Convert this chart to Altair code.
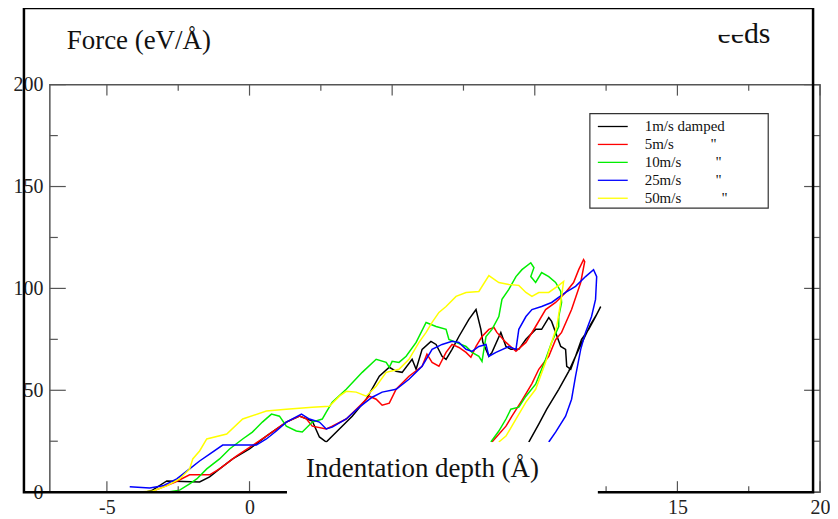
import altair as alt
import pandas as pd

W, H = 773, 409

series_names = ["1m/s damped", "5m/s", "10m/s", "25m/s", "50m/s"]
legend_ditto = ["", "\"", "\"", "\"", "\""]
series_colors = ["#000000", "#ff0000", "#00ee00", "#0000ff", "#ffff00"]

black_x = [-3.60, -3.40, -2.90, -1.75, -1.40, -1.05, -0.59, 0.00, 0.59, 1.29, 1.75, 2.20, 2.45, 2.69, 3.15, 3.60, 4.09, 4.55, 4.90, 5.14, 5.35, 5.70, 5.84, 6.05, 6.36, 6.54, 6.75, 6.89, 7.10, 7.34, 7.69, 7.94, 8.11, 8.18, 8.39, 8.50, 8.81, 8.99, 9.16, 9.44, 9.69, 10.03, 10.24, 10.49, 10.59, 10.73, 10.91, 11.08, 11.12, 11.26, 11.43, 11.64, 11.89, 12.13, 12.31, 12.17, 11.96, 11.54, 11.19, 10.84, 10.42, 10.14, 9.79]
black_y = [0.2, 1.0, 5.5, 5.0, 7.5, 11.4, 16.3, 21.2, 27.5, 34.4, 37.3, 34.9, 27.1, 24.6, 31.0, 37.3, 45.6, 56.9, 61.3, 59.3, 58.8, 65.2, 60.3, 70.1, 74.0, 72.5, 66.7, 65.2, 70.1, 76.4, 84.8, 89.6, 79.9, 73.5, 66.7, 68.6, 78.4, 71.5, 70.1, 70.1, 75.0, 79.9, 79.9, 85.7, 83.8, 78.4, 71.5, 70.1, 61.8, 60.3, 66.7, 75.0, 79.9, 86.2, 91.1, 87.2, 82.3, 70.1, 59.3, 50.5, 40.7, 33.4, 24.6]

red_x = [-3.30, -2.60, -2.10, -1.40, -1.05, -0.45, 0.59, 1.29, 1.75, 1.99, 2.20, 2.69, 2.90, 3.39, 3.85, 4.20, 4.44, 4.65, 4.90, 5.14, 5.59, 6.05, 6.22, 6.40, 6.64, 6.89, 7.10, 7.34, 7.59, 7.76, 7.94, 8.15, 8.39, 8.57, 8.67, 8.99, 9.34, 9.69, 10.03, 10.38, 10.73, 11.08, 11.36, 11.54, 11.71, 11.75, 11.61, 11.29, 10.94, 10.73, 10.49, 10.14, 9.90, 9.55, 9.20, 8.99, 8.50]
red_y = [1.0, 5.0, 8.5, 8.5, 11.4, 17.8, 27.5, 34.4, 37.3, 36.0, 32.4, 31.0, 32.4, 35.9, 42.2, 47.1, 45.6, 42.7, 43.7, 50.5, 56.9, 61.8, 67.7, 63.7, 61.8, 68.6, 72.5, 71.0, 68.6, 66.2, 71.5, 76.4, 79.9, 80.8, 78.4, 73.5, 69.1, 73.5, 81.3, 89.6, 93.1, 98.0, 102.9, 109.2, 114.1, 113.1, 102.9, 89.6, 78.4, 74.8, 66.7, 60.3, 53.3, 45.0, 37.3, 32.4, 24.6]

green_x = [-2.80, -2.45, -2.10, -1.85, -1.50, -1.05, -0.70, -0.24, 0.10, 0.45, 0.77, 1.05, 1.29, 1.64, 1.85, 2.20, 2.55, 2.69, 2.90, 3.39, 3.95, 4.44, 4.79, 4.90, 5.00, 5.24, 5.49, 5.84, 6.19, 6.54, 6.89, 6.99, 7.24, 7.59, 7.80, 8.04, 8.15, 8.29, 8.50, 8.74, 8.85, 9.09, 9.34, 9.55, 9.86, 9.97, 9.86, 10.03, 10.24, 10.49, 10.73, 10.91, 10.94, 10.84, 10.84, 10.59, 10.38, 10.03, 9.69, 9.44, 9.16, 8.99, 8.74, 8.46]
green_y = [0.2, 1.0, 4.1, 6.5, 11.4, 16.3, 21.2, 26.1, 29.5, 34.4, 38.3, 37.3, 32.4, 30.0, 29.5, 34.4, 35.9, 39.3, 44.2, 50.5, 58.8, 65.2, 63.7, 61.3, 64.2, 63.7, 66.7, 73.5, 83.3, 81.3, 79.9, 75.0, 73.5, 71.5, 68.6, 66.7, 64.2, 76.4, 79.9, 86.2, 94.6, 99.5, 105.8, 109.2, 112.6, 110.2, 105.8, 102.9, 107.8, 105.8, 102.9, 98.5, 93.1, 86.2, 81.3, 73.5, 65.2, 53.0, 47.1, 41.7, 40.7, 35.9, 30.0, 24.6]

blue_x = [-4.20, -3.50, -3.04, -2.55, -2.10, -1.75, -1.40, -0.94, 0.24, 0.59, 0.94, 1.29, 1.82, 2.10, 2.45, 2.69, 2.90, 3.39, 3.85, 4.30, 4.65, 5.14, 5.59, 6.05, 6.40, 6.75, 7.10, 7.34, 7.59, 7.80, 8.04, 8.29, 8.39, 8.64, 9.09, 9.34, 9.44, 9.69, 9.90, 10.24, 10.59, 11.08, 11.43, 11.78, 12.06, 12.17, 12.13, 11.99, 11.78, 11.61, 11.43, 11.29, 11.08, 10.73, 10.49]
blue_y = [2.6, 2.1, 3.1, 6.5, 11.4, 15.3, 18.7, 23.1, 23.1, 26.1, 30.0, 34.4, 38.3, 35.9, 34.4, 31.0, 31.9, 35.9, 41.7, 46.6, 49.1, 50.5, 55.4, 61.8, 70.1, 72.5, 74.0, 73.5, 70.1, 69.1, 71.5, 72.5, 66.7, 68.6, 71.5, 70.1, 79.9, 86.2, 89.6, 91.1, 93.1, 98.0, 101.0, 105.8, 109.2, 105.8, 94.6, 86.2, 78.4, 70.1, 56.9, 45.6, 37.3, 29.5, 24.6]

yellow_x = [-3.85, -3.39, -2.90, -2.45, -2.10, -1.99, -1.75, -1.50, -0.80, -0.24, 0.59, 1.29, 2.20, 2.80, 3.15, 3.39, 3.74, 4.09, 4.44, 4.79, 5.24, 5.59, 5.94, 6.19, 6.40, 6.64, 6.89, 7.24, 7.59, 8.04, 8.39, 8.74, 9.09, 9.44, 9.69, 9.90, 10.14, 10.49, 10.84, 11.01, 10.94, 10.77, 10.59, 10.38, 10.03, 9.69, 9.34, 8.99, 8.74]
yellow_y = [0.1, 0.6, 3.1, 6.5, 11.4, 16.3, 20.2, 26.1, 28.5, 35.9, 39.8, 40.7, 41.7, 42.2, 47.1, 49.5, 49.1, 47.1, 52.0, 58.8, 60.3, 65.2, 73.5, 78.4, 83.3, 88.2, 91.1, 96.1, 98.0, 98.5, 106.3, 102.9, 101.9, 101.5, 98.0, 96.1, 98.0, 98.0, 101.5, 103.4, 96.1, 81.3, 73.5, 63.7, 50.5, 44.2, 35.9, 27.5, 24.6]

x_major = [-5, 0, 5, 10, 15, 20]
x_minor = [-2.5, 2.5, 7.5, 12.5, 17.5]
y_major = [0, 50, 100, 150, 200]
y_minor = [25, 75, 125, 175]

series_x = [black_x, red_x, green_x, blue_x, yellow_x]
series_y = [black_y, red_y, green_y, blue_y, yellow_y]

FONT = "Liberation Serif"
xs = alt.Scale(domain=[-7, 20], nice=False, zero=False)
ys = alt.Scale(domain=[0, 200], nice=False, zero=False)
xa = alt.Axis(values=x_major, title=None, ticks=False, domain=False, grid=False,
              labelFlush=False, labelOverlap=False,
              labelExpr="datum.value < 0 ? '-' + abs(datum.value) : datum.label",
              labelFont=FONT, labelFontSize=20, labelColor="#222", labelPadding=5)
ya = alt.Axis(values=y_major, title=None, ticks=False, domain=False, grid=False,
              labelFlush=False, labelOverlap=False,
              labelFont=FONT, labelFontSize=20, labelColor="#222", labelPadding=7)

layers = []
for k, (sx, sy) in enumerate(zip(series_x, series_y)):
    df = pd.DataFrame({"x": sx, "y": sy, "i": list(range(len(sx))), "s": series_names[k]})
    layers.append(
        alt.Chart(df).mark_line(color=series_colors[k], strokeWidth=1.5, clip=True).encode(
            x=alt.X("x:Q", scale=xs, axis=xa),
            y=alt.Y("y:Q", scale=ys, axis=ya),
            order="i:Q",
        )
    )

TICK = "#555"
def xticks(vals, length):
    d = pd.DataFrame({"x": vals})
    b = alt.Chart(d).mark_rule(color=TICK, strokeWidth=1.2).encode(
        x=alt.X("x:Q", scale=xs, axis=xa), y=alt.value(H), y2=alt.value(H - length))
    t = alt.Chart(d).mark_rule(color=TICK, strokeWidth=1.2).encode(
        x=alt.X("x:Q", scale=xs, axis=xa), y=alt.value(0), y2=alt.value(length))
    return [b, t]

def yticks(vals, length):
    d = pd.DataFrame({"y": vals})
    l = alt.Chart(d).mark_rule(color=TICK, strokeWidth=1.2).encode(
        y=alt.Y("y:Q", scale=ys, axis=ya), x=alt.value(0), x2=alt.value(length))
    r = alt.Chart(d).mark_rule(color=TICK, strokeWidth=1.2).encode(
        y=alt.Y("y:Q", scale=ys, axis=ya), x=alt.value(W), x2=alt.value(W - length))
    return [l, r]

layers += xticks(x_major, 11) + xticks(x_minor, 6) + yticks(y_major, 16) + yticks(y_minor, 8)

one = pd.DataFrame({"a": [0]})

# slide text-box border
layers.append(alt.Chart(one).mark_rect(fill="white", fillOpacity=0, stroke="black", strokeWidth=2.5).encode(
    x=alt.value(-26), x2=alt.value(766), y=alt.value(-77), y2=alt.value(H)))
# white box behind the axis caption
layers.append(alt.Chart(one).mark_rect(fill="white").encode(
    x=alt.value(238), x2=alt.value(550), y=alt.value(359), y2=alt.value(440)))

def text(t, x, y, size, align="left", baseline="alphabetic"):
    return alt.Chart(pd.DataFrame({"t": [t]})).mark_text(
        font=FONT, fontSize=size, color="#111", align=align, baseline=baseline).encode(
        text="t:N", x=alt.value(x), y=alt.value(y))

layers.append(text("Force (eV/Å)", 17, -36, 27))
layers.append(text("Indentation depth (Å)", 257, 394, 27))
layers.append(text("eeds", 670, -42, 30))
layers.append(alt.Chart(one).mark_rect(fill="white").encode(
    x=alt.value(666), x2=alt.value(696), y=alt.value(-66), y2=alt.value(-50)))

# legend
layers.append(alt.Chart(one).mark_rect(fill="white", stroke="#333", strokeWidth=1.2).encode(
    x=alt.value(542), x2=alt.value(721), y=alt.value(29), y2=alt.value(124)))
ditto_x = [0, 663, 668, 668, 674]
for k, name in enumerate(series_names):
    yy = 42 + 18 * k
    layers.append(alt.Chart(pd.DataFrame({"s": [name]})).mark_rule(
        color=series_colors[k], strokeWidth=1.3).encode(
        x=alt.value(550), x2=alt.value(580), y=alt.value(yy)))
    layers.append(text(name, 597, yy, 15, baseline="middle"))
    if legend_ditto[k]:
        layers.append(text(legend_ditto[k], ditto_x[k], yy, 15, baseline="middle"))

chart = alt.layer(*layers).properties(
    width=W, height=H,
    autosize=alt.AutoSizeParams(type="none"),
    padding={"left": 42, "top": 76, "right": 10, "bottom": 25},
    background="white",
).configure_view(stroke="#555", strokeWidth=1.5)

chart.save("out.html", embed_options={"renderer": "svg", "actions": False})
